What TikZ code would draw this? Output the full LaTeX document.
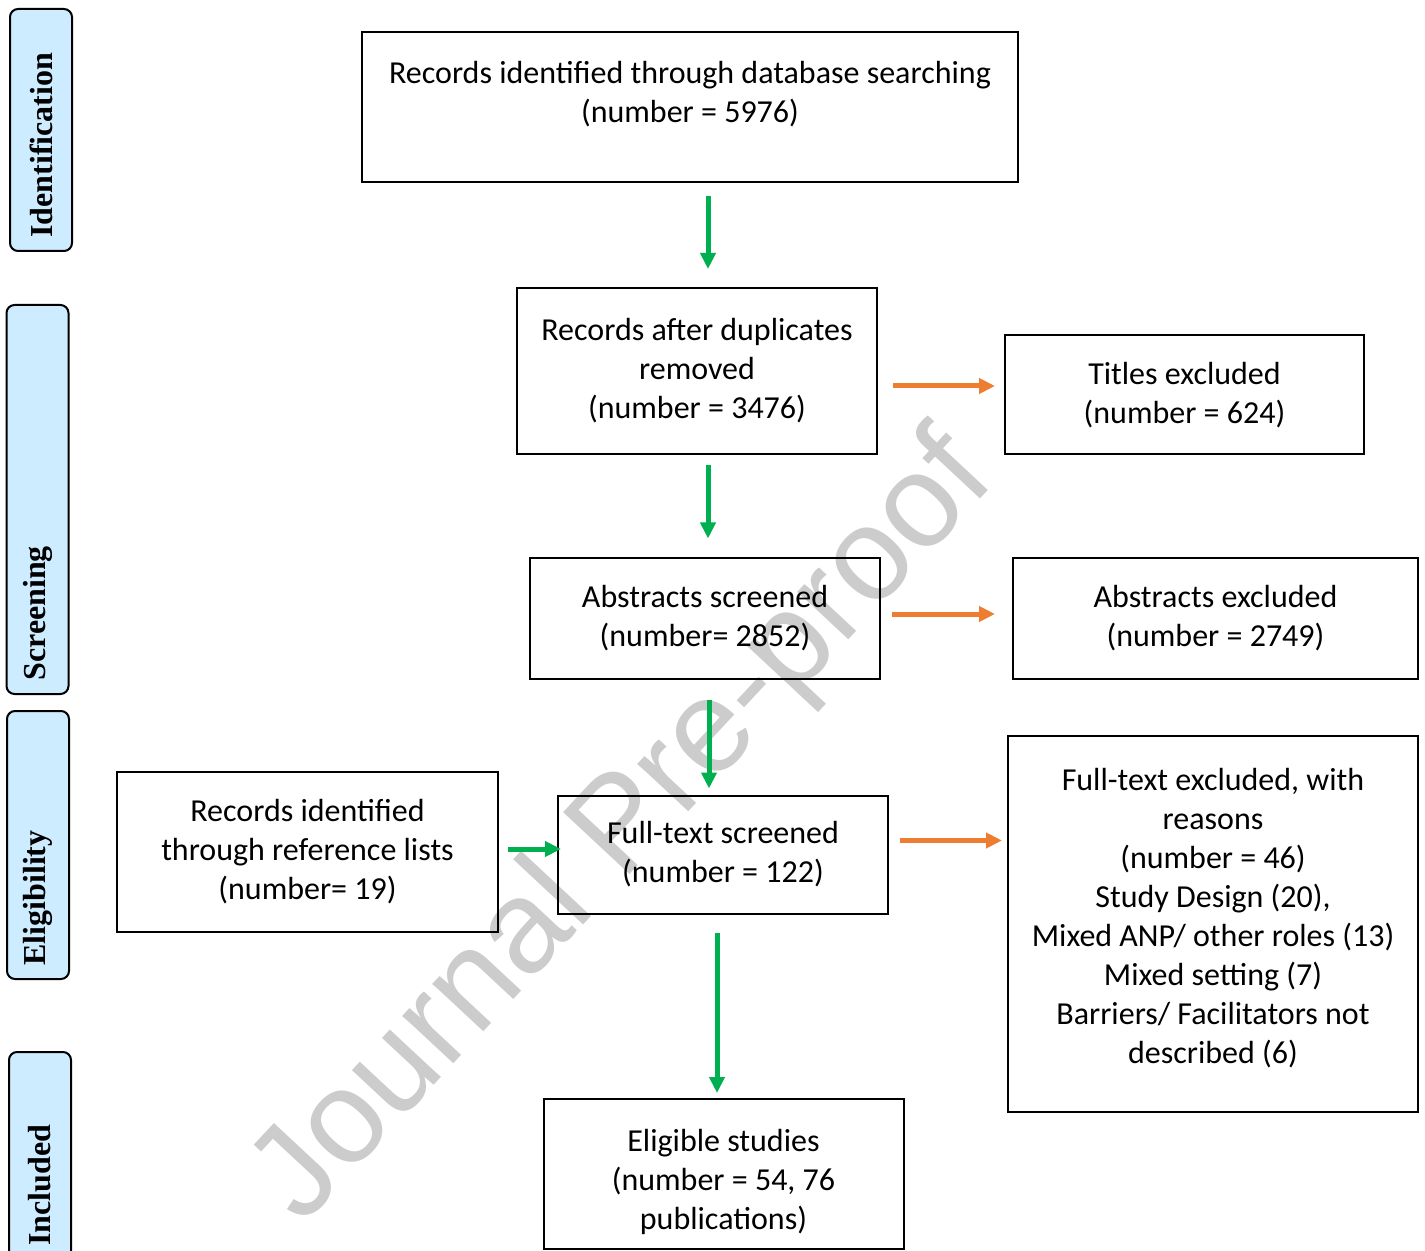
\documentclass[tikz,border=0pt]{standalone}
\usepackage{fontspec}
\setmainfont{Carlito}
\newfontfamily\stagefont{Liberation Serif}
\newfontfamily\markfont{Liberation Sans}
\usetikzlibrary{arrows.meta}

\definecolor{keepgreen}{RGB}{0,176,80}
\definecolor{droporange}{RGB}{237,125,49}
\definecolor{stageblue}{RGB}{206,236,255}

\tikzset{
  box/.style={draw, line width=1pt, align=center, inner sep=0pt,
    font=\fontsize{16}{19.5}\selectfont},
  stagebox/.style={draw, line width=1pt, rounded corners=4pt, fill=stageblue,
    minimum width=31pt},
  stagetext/.style={rotate=90, anchor=west, inner sep=0pt,
    font=\stagefont\bfseries\fontsize{16}{19}\selectfont},
  keep/.style={draw=keepgreen, line width=2.5pt, -{Triangle[length=8pt,width=7.5pt]}},
  drop/.style={draw=droporange, line width=2.5pt, -{Triangle[length=8pt,width=7.5pt]}}
}

\begin{document}
\begin{tikzpicture}[x=0.5pt, y=-0.5pt]
      \useasboundingbox (0,0) rectangle (1425,1251);
      \clip (0,0) rectangle (1425,1251);

      % Watermark behind everything
      \node[text=black!20, font=\markfont\fontsize{66}{66}\selectfont, rotate=47]
        (mark) at (625,830) {Journal Pre-proof};

      % Stage tabs on the left
      \foreach \name/\x/\y/\h/\lab in {ident/41/130/121/Identification,
          screen/37.5/499.5/194.5/Screening, elig/38/845/134/Eligibility,
          incl/40/1155.5/103.5/Included} {
          \node[stagebox, minimum height=\h pt] (\name) at (\x,\y) {};
          \node[stagetext] (\name-text) at ([yshift=7pt]\name.south) {\lab};
      }

      % Boxes
      \node[box, minimum width=328pt, minimum height=75pt] (search) at (690,107)
        {Records identified through database searching\\(number = 5976)\\[-10pt]\strut};
      \node[box, minimum width=180pt, minimum height=83pt] (dedup) at (697,371)
        {Records after duplicates\\removed\\(number = 3476)};
      \node[box, minimum width=179.5pt, minimum height=59.5pt] (titles) at (1184.5,395)
        {Titles excluded\\(number = 624)};
      \node[box, minimum width=175pt, minimum height=60pt] (abstracts) at (705,618.5)
        {Abstracts screened\\(number= 2852)};
      \node[box, minimum width=202.5pt, minimum height=60pt] (absexcl) at (1215.5,618.5)
        {Abstracts excluded\\(number = 2749)};
      \node[box, minimum width=190.5pt, minimum height=80pt] (reflists) at (307.5,852)
        {Records identified\\through reference lists\\(number= 19)};
      \node[box, minimum width=165pt, minimum height=59pt] (fulltext) at (723,854.5)
        {Full-text screened\\(number = 122)};
      \node[box, minimum width=205pt, minimum height=188pt] (ftexcl) at (1213,924)
        {Full-text excluded, with\\reasons\\(number = 46)\\Study Design (20),\\Mixed ANP/ other roles (13)\\Mixed setting (7)\\Barriers/ Facilitators not\\described (6)\\[-17pt]\strut};
      \node[box, minimum width=180pt, minimum height=75pt] (eligible) at (723.5,1174)
        {\mbox{}\\[-0.5pt]Eligible studies\\(number = 54, 76\\publications)};

      % Green arrows down the main flow
      \draw[keep, shorten <=6.5pt, shorten >=9pt] ([xshift=9pt]search.south) -- ([xshift=9pt]search.south |- dedup.north);
      \draw[keep, shorten <=5pt, shorten >=9.5pt] ([xshift=5.5pt]dedup.south) -- ([xshift=5.5pt]dedup.south |- abstracts.north);
      \draw[keep, shorten <=10pt, shorten >=3pt] ([xshift=2pt]abstracts.south) -- ([xshift=2pt]abstracts.south |- fulltext.north);
      \draw[keep, shorten <=9pt, shorten >=2.5pt] ([xshift=-3pt]fulltext.south) -- ([xshift=-3pt]fulltext.south |- eligible.north);
      \draw[keep, shorten <=4.5pt, shorten >=-2pt] ([yshift=1.5pt]reflists.east) -- ([yshift=1.5pt]reflists.east -| fulltext.west);

      % Orange arrows to the exclusions
      \draw[drop, shorten <=7.5pt, shorten >=4.5pt] ([yshift=-7.5pt]dedup.east) -- ([yshift=-7.5pt]dedup.east -| titles.west);
      \draw[drop, shorten <=5.5pt, shorten >=8.5pt] ([yshift=2.25pt]abstracts.east) -- ([yshift=2.25pt]abstracts.east -| absexcl.west);
      \draw[drop, shorten <=5.5pt, shorten >=2.5pt] ([yshift=7pt]fulltext.east) -- ([yshift=7pt]fulltext.east -| ftexcl.west);
\end{tikzpicture}
\end{document}
